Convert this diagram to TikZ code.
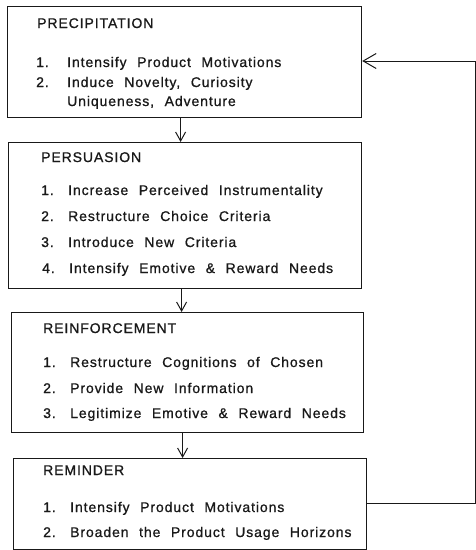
\documentclass[tikz,border=0pt]{standalone}
\usepackage{fontspec}
\setmainfont[LetterSpace=6.5,WordSpace=2.2,FakeBold=0.9]{Liberation Sans}
\usetikzlibrary{calc}
\usetikzlibrary{arrows.meta}

\begin{document}
\begin{tikzpicture}[x=1pt,y=-1pt]
\useasboundingbox (0,0) rectangle (476,550);
\tikzset{
  stage/.style={draw=black!90,line width=1.2pt,anchor=north west,inner sep=0pt},
  entry/.style={anchor=base west,inner sep=0pt,font=\fontsize{14}{16}\selectfont,text=black!90},
  flow/.style={draw=black!90,line width=1pt,-{Straight Barb[length=9pt,width=10pt]}},
  loopback/.style={draw=black!90,line width=1pt,-{Straight Barb[length=13pt,width=15pt]}}
}

% top left corners of the four stages
\coordinate (a) at (7,6);
\coordinate (b) at (8,142);
\coordinate (c) at (11,312);
\coordinate (d) at (13,458);
% feedback line along the right side
\coordinate (fbin) at (475.5,61);
\coordinate (fbout) at (475.5,503);

\newcommand{\stagebox}[4]{
    \node[stage,minimum width=#3,minimum height=#4] (#1) at (#2) {};
}
\newcommand{\stageline}[4]{
    \node[entry] (#1) at (#2,#3) {#4};
}
\newcommand{\itemno}[2][27pt]{\makebox[#1][l]{#2}}

\stagebox{prec}{a}{354}{111}
\stagebox{pers}{b}{353}{146}
\stagebox{rein}{c}{352}{120}
\stagebox{remi}{d}{353}{91}

% precipitation
\stageline{p0}{37}{28}{PRECIPITATION}
\stageline{p1}{36}{67}{\itemno[31pt]{1.}Intensify Product Motivations}
\stageline{p2}{36}{87}{\itemno[31pt]{2.}Induce Novelty, Curiosity}
\stageline{p3}{67}{106}{Uniqueness, Adventure}

% persuasion
\stageline{q0}{41}{162}{PERSUASION}
\stageline{q1}{41}{195}{\itemno{1.}Increase Perceived Instrumentality}
\stageline{q2}{41}{221}{\itemno{2.}Restructure Choice Criteria}
\stageline{q3}{41}{247}{\itemno{3.}Introduce New Criteria}
\stageline{q4}{42}{273}{\itemno{4.}Intensify Emotive \& Reward Needs}

% reinforcement
\stageline{r0}{43}{333}{REINFORCEMENT}
\stageline{r1}{43}{367}{\itemno{1.}Restructure Cognitions of Chosen}
\stageline{r2}{43}{393}{\itemno{2.}Provide New Information}
\stageline{r3}{43}{418}{\itemno{3.}Legitimize Emotive \& Reward Needs}

% reminder
\stageline{s0}{43}{475}{REMINDER}
\stageline{s1}{43}{512}{\itemno{1.}Intensify Product Motivations}
\stageline{s2}{43}{537}{\itemno{2.}Broaden the Product Usage Horizons}

\draw[flow] ([xshift=-4pt]prec.south) -- ([xshift=-4pt]prec.south |- pers.north);
\draw[flow] ([xshift=-3.5pt]pers.south) -- ([xshift=-3.5pt]pers.south |- rein.north);
\draw[flow] ([xshift=-5pt]rein.south) -- ([xshift=-5pt]rein.south |- remi.north);
\draw[loopback] (remi.east |- fbout) -- (fbout) -- (fbin) -- (prec.east |- fbin);
\end{tikzpicture}
\end{document}
